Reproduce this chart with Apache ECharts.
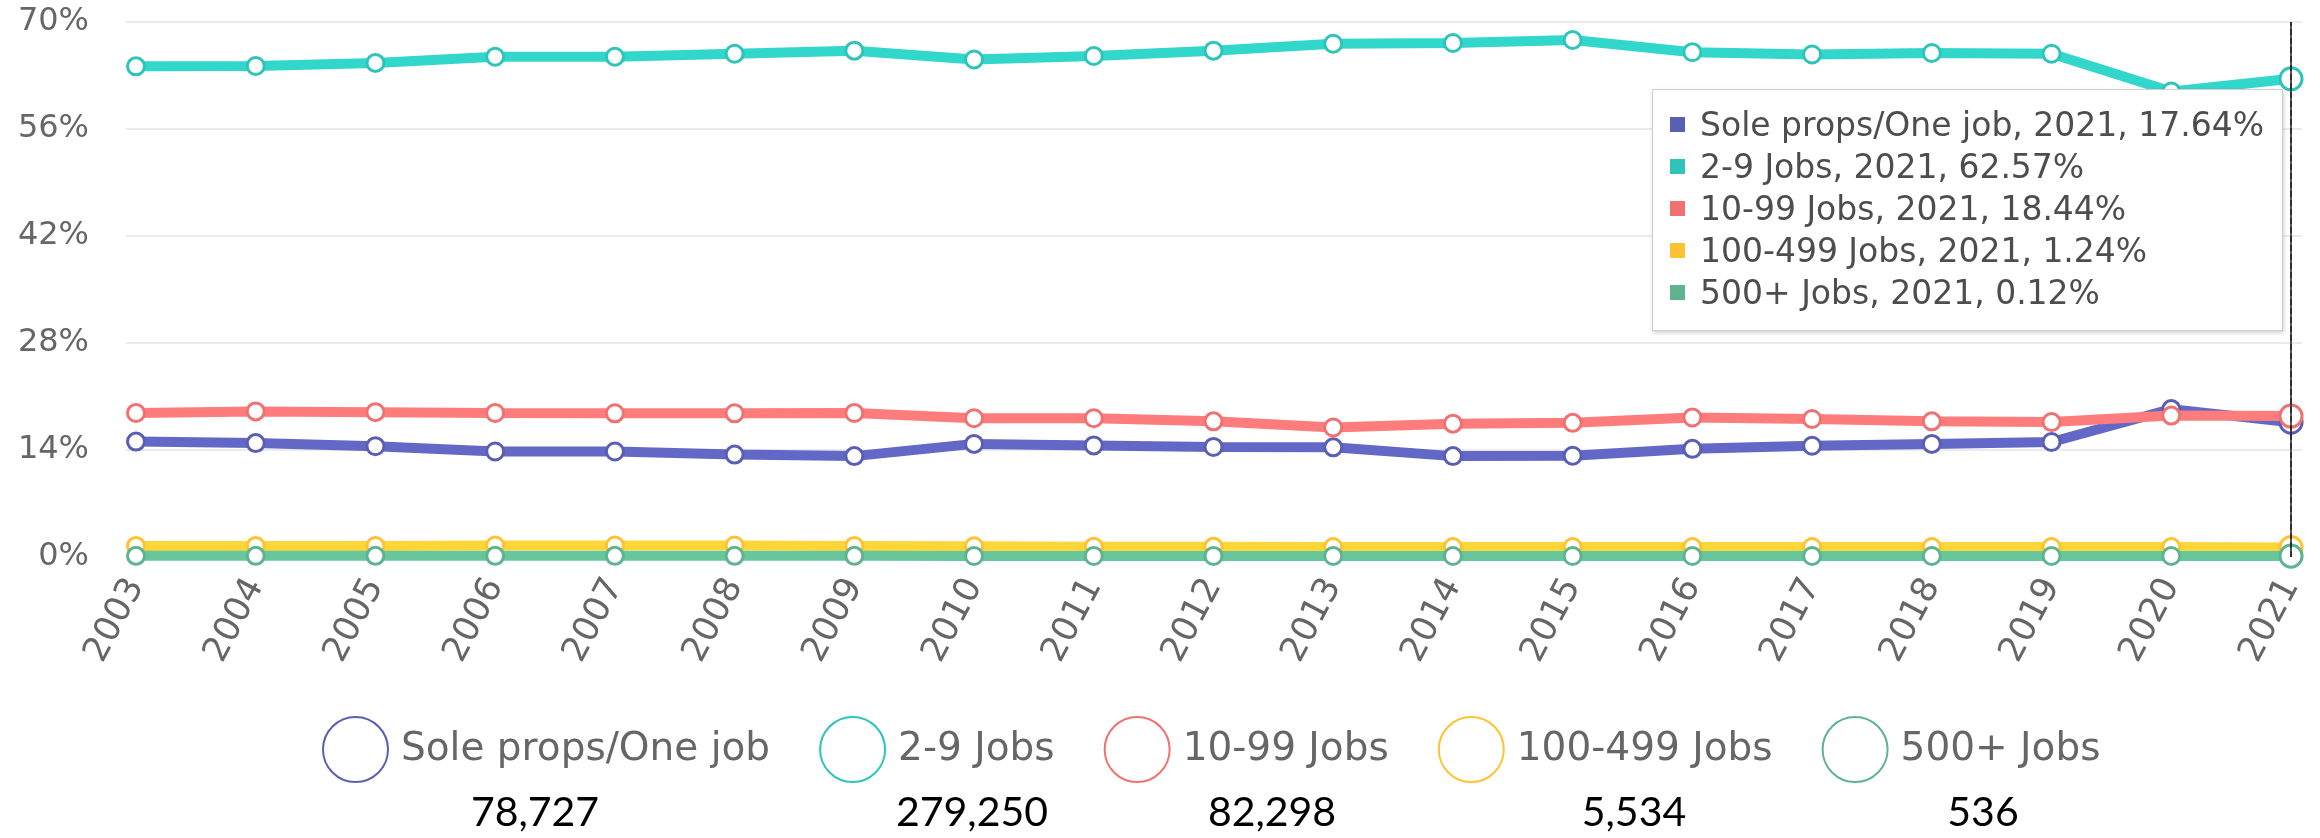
<!DOCTYPE html>
<html>
<head>
<meta charset="utf-8">
<script src="https://cdn.jsdelivr.net/npm/echarts@6/dist/echarts.min.js"></script>
<style>
html,body{margin:0;padding:0;background:#fff;}
#chart{width:2320px;height:838px;}
</style>
</head>
<body>
<div id="chart"></div>
<script>
// ---- data ----
const years = ['2003','2004','2005','2006','2007','2008','2009','2010','2011','2012','2013','2014','2015','2016','2017','2018','2019','2020','2021'];
const seriesNames = ['Sole props/One job','2-9 Jobs','10-99 Jobs','100-499 Jobs','500+ Jobs'];
const soleProps = [15.1, 14.9, 14.5, 13.8, 13.8, 13.4, 13.2, 14.8, 14.6, 14.4, 14.35, 13.2, 13.25, 14.15, 14.55, 14.8, 15.05, 19.35, 17.64];
const jobs2to9 = [64.2, 64.25, 64.65, 65.45, 65.45, 65.85, 66.25, 65.1, 65.55, 66.25, 67.15, 67.25, 67.65, 66.05, 65.75, 65.95, 65.85, 60.9, 62.57];
const jobs10to99 = [18.85, 19.05, 18.95, 18.85, 18.8, 18.8, 18.85, 18.15, 18.15, 17.75, 16.95, 17.45, 17.55, 18.25, 18.05, 17.75, 17.65, 18.5, 18.44];
const jobs100to499 = [1.45, 1.45, 1.45, 1.5, 1.5, 1.5, 1.45, 1.4, 1.35, 1.35, 1.3, 1.3, 1.3, 1.3, 1.3, 1.3, 1.3, 1.3, 1.24];
const jobs500plus = [0.15, 0.15, 0.15, 0.15, 0.15, 0.15, 0.15, 0.14, 0.14, 0.14, 0.14, 0.13, 0.13, 0.13, 0.13, 0.13, 0.13, 0.13, 0.12];
const yTicks = [0, 14, 28, 42, 56, 70];
const counts = ['78,727', '279,250', '82,298', '5,534', '536'];

// ---- style / layout ----
const colors = ['#5a5fb4', '#2ec4b9', '#f07171', '#ffc233', '#5fb48f'];
const countX = [535, 972, 1272, 1634, 1983];
const countY = 813;
const FONT = '"DejaVu Sans", sans-serif';
const allData = [soleProps, jobs2to9, jobs10to99, jobs100to499, jobs500plus];

const chart = echarts.init(document.getElementById('chart'), null, {renderer: 'canvas'});

const series = seriesNames.map((name, i) => ({
  name: name,
  type: 'line',
  xAxisIndex: 0,
  yAxisIndex: 0,
  data: allData[i],
  symbol: 'circle',
  symbolSize: 17,
  showSymbol: true,
  lineStyle: {color: colors[i], width: 10},
  itemStyle: {color: '#fff', borderColor: colors[i], borderWidth: 3},
  emphasis: {scale: 1.3, lineStyle: {width: 10}},
  z: 2 + i
}));

const option = {
  animation: false,
  backgroundColor: '#fff',
  grid: [
    {left: 136, right: 29, top: 22, bottom: 281, containLabel: false},
    {left: 126, right: 18, top: 22, bottom: 281, containLabel: false}
  ],
  xAxis: [
    {
      type: 'category',
      gridIndex: 0,
      data: years,
      boundaryGap: false,
      axisLine: {show: false},
      axisTick: {show: false},
      splitLine: {show: false},
      axisLabel: {
        rotate: 62,
        margin: 24,
        fontFamily: FONT,
        fontSize: 35,
        color: '#666',
        interval: 0
      },
      axisPointer: {
        show: true,
        type: 'line',
        lineStyle: {color: '#222', width: 1.5, type: 'solid'},
        label: {show: false}
      }
    },
    {type: 'value', gridIndex: 1, show: false, min: 0, max: 1}
  ],
  yAxis: [
    {
      type: 'value',
      gridIndex: 0,
      min: yTicks[0],
      max: yTicks[yTicks.length - 1],
      interval: yTicks[1] - yTicks[0],
      axisLine: {show: false},
      axisTick: {show: false},
      splitLine: {show: false},
      axisLabel: {
        formatter: '{value}%',
        margin: 47,
        fontFamily: FONT,
        fontSize: 32,
        color: '#666'
      }
    },
    {
      type: 'value',
      gridIndex: 1,
      min: yTicks[0],
      max: yTicks[yTicks.length - 1],
      interval: yTicks[1] - yTicks[0],
      axisLine: {show: false},
      axisTick: {show: false},
      axisLabel: {show: false},
      splitLine: {show: true, lineStyle: {color: '#ebebeb', width: 2}}
    }
  ],
  legend: {
    left: 317,
    top: 711,
    itemWidth: 65,
    itemHeight: 65,
    itemGap: 49,
    icon: 'circle',
    selectedMode: false,
    textStyle: {fontFamily: FONT, fontSize: 39, color: '#666', padding: [0, 0, 0, 8]},
    data: seriesNames.map((n, i) => ({
      name: n,
      icon: 'circle',
      itemStyle: {color: '#fff', borderColor: colors[i], borderWidth: 2}
    }))
  },
  tooltip: {
    trigger: 'axis',
    triggerOn: 'none',
    alwaysShowContent: true,
    transitionDuration: 0,
    showDelay: 0,
    hideDelay: 0,
    backgroundColor: '#fff',
    borderColor: '#cfcfcf',
    borderWidth: 1,
    borderRadius: 0,
    padding: [14, 18, 16, 17],
    extraCssText: 'box-shadow: 1px 2px 4px rgba(0,0,0,0.18);',
    textStyle: {fontFamily: FONT, fontSize: 33, color: '#4d4d4d'},
    position: function () { return [1652, 89]; },
    axisPointer: {type: 'line', lineStyle: {color: '#222', width: 1.5}},
    formatter: function (params) {
      return params.map(p => {
        const c = colors[p.seriesIndex];
        return '<div style="height:42px;line-height:42px;white-space:nowrap;font-family:' + FONT.replace(/"/g, "'") + ';font-size:33px;color:#4d4d4d;">' +
          '<span style="display:inline-block;width:15px;height:15px;background:' + c + ';margin-right:15px;vertical-align:middle;position:relative;top:-2px;"></span>' +
          p.seriesName + ', ' + p.name + ', ' + Number(p.value).toFixed(2) + '%</div>';
      }).join('');
    }
  },
  graphic: counts.map((t, i) => ({
    type: 'text',
    x: countX[i],
    y: countY,
    style: {
      text: t,
      font: '41px Lato, "Liberation Sans", sans-serif',
      fill: '#000',
      align: 'center',
      verticalAlign: 'middle'
    }
  })),
  series: series
};

chart.setOption(option);
chart.dispatchAction({type: 'showTip', seriesIndex: 0, dataIndex: years.length - 1});
</script>
</body>
</html>
